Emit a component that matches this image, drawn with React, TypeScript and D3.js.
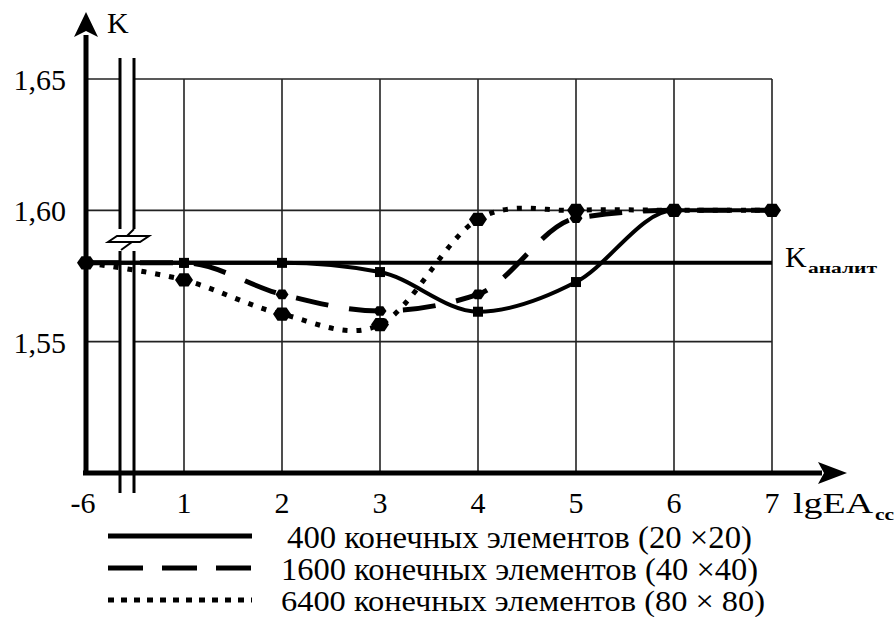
import React from "react";
import * as d3 from "d3";

// Positions along the horizontal axis: the first one (-6) sits before the axis break
const xLabels = ["-6", "1", "2", "3", "4", "5", "6", "7"];
const yTicks = [1.55, 1.6, 1.65];
const yTickLabels = ["1,55", "1,60", "1,65"];

// Coefficient K for three mesh densities
const k400 = [1.58, 1.58, 1.58, 1.5765, 1.5614, 1.5727, 1.6, 1.6];
const k1600 = [1.58, 1.58, 1.568, 1.5617, 1.568, 1.597, 1.6, 1.6];
const k6400 = [1.58, 1.5735, 1.5605, 1.5565, 1.5966, 1.6, 1.6, 1.6];
const kAnalit = 1.58;

const legendLabels = [
  "400 конечных элементов (20 ×20)",
  "1600 конечных элементов (40 ×40)",
  "6400 конечных элементов (80 × 80)",
];

const W = 896;
const H = 617;
const FONT = "Liberation Serif, Times New Roman, DejaVu Serif, serif";

export default function App() {
  const x = d3.scaleLinear().domain([0, 7]).range([86, 772]);
  const y = d3.scaleLinear().domain([1.5, 1.65]).range([473, 79]);
  const idx = d3.range(xLabels.length);

  const line = (vals: number[], curve: d3.CurveFactory) =>
    d3
      .line<number>()
      .x((i) => x(i))
      .y((i) => y(vals[i]))
      .curve(curve)(idx) || "";

  const breakL = 120;
  const breakR = 134;
  const x0 = x(0);
  const xEnd = x(7);
  const yTop = y(1.65);
  const yBot = y(1.5);

  const hexagon = (cx: number, cy: number, r: number) => {
    const pts = d3.range(6).map((k) => {
      const a = (Math.PI / 3) * k;
      return [cx + r * Math.cos(a), cy + r * 0.85 * Math.sin(a)];
    });
    return "M" + pts.map((p) => p.join(",")).join("L") + "Z";
  };

  const legendY = [536, 568, 600];
  const legendBase = [548, 580, 611];
  const legendX = [287, 281, 281];
  const legendW = [465, 477, 484];
  const legendSize = [31, 31, 30];
  const txt = { fontFamily: FONT };

  return (
    <svg
      width={W}
      height={H}
      style={{ position: "absolute", left: 0, top: 0, background: "#fff" }}
    >
      <rect width={W} height={H} fill="#fff" />

      {/* grid: horizontal lines with a gap across the axis break */}
      {yTicks.map((t) => (
        <g key={"h" + t}>
          <line x1={x0} x2={breakL} y1={y(t)} y2={y(t)} stroke="#222" strokeWidth={1.6} />
          <line x1={breakR} x2={xEnd} y1={y(t)} y2={y(t)} stroke="#222" strokeWidth={1.6} />
        </g>
      ))}
      {idx.slice(1).map((i) => (
        <line key={"v" + i} x1={x(i)} x2={x(i)} y1={yTop} y2={yBot} stroke="#222" strokeWidth={1.6} />
      ))}

      {/* axis break marks */}
      <line x1={breakL} x2={breakL} y1={58} y2={493} stroke="#000" strokeWidth={3} />
      <line x1={breakR} x2={breakR} y1={58} y2={493} stroke="#000" strokeWidth={3} />
      <rect x={breakL - 3} y={229} width={breakR - breakL + 6} height={22} fill="#fff" />
      <path d="M134,229 L126,237" stroke="#000" strokeWidth={2} fill="none" />
      <path d="M108,242 L117,236 L149,236 L140,242 Z" stroke="#000" strokeWidth={2} fill="#fff" />
      <path d="M132,242 L121,250" stroke="#000" strokeWidth={2} fill="none" />

      {/* analytical value */}
      <line x1={x0} x2={xEnd} y1={y(kAnalit)} y2={y(kAnalit)} stroke="#000" strokeWidth={4} />

      {/* curves */}
      <path d={line(k400, d3.curveMonotoneX)} fill="none" stroke="#000" strokeWidth={4} />
      <path d={line(k1600, d3.curveMonotoneX)} fill="none" stroke="#000" strokeWidth={5} strokeDasharray="33,21" />
      <path d={line(k6400, d3.curveCardinal.tension(0))} fill="none" stroke="#000" strokeWidth={5} strokeDasharray="5,9" />

      {/* markers */}
      {idx.map((i) => (
        <rect key={"m4" + i} x={x(i) - 5} y={y(k400[i]) - 5} width={10} height={10} fill="#000" />
      ))}
      {idx.map((i) => (
        <path key={"m16" + i} d={hexagon(x(i), y(k1600[i]), 6.5)} fill="#000" />
      ))}
      {idx.map((i) => (
        <path key={"m64" + i} d={hexagon(x(i), y(k6400[i]), 9)} fill="#000" />
      ))}

      {/* axes */}
      <line x1={x0 - 3} x2={822} y1={yBot} y2={yBot} stroke="#000" strokeWidth={5} />
      <path d={`M847,${yBot} L818,${yBot - 11} L824,${yBot} L818,${yBot + 11} Z`} fill="#000" />
      <line x1={x0} x2={x0} y1={35} y2={yBot + 2} stroke="#000" strokeWidth={5} />
      <path d={`M${x0},12 L${x0 - 12},37 L${x0},31 L${x0 + 12},37 Z`} fill="#000" />

      {/* tick labels */}
      {yTicks.map((t, i) => (
        <text key={"yt" + t} x={66} y={y(t) + 11} textAnchor="end" fontSize={30} fill="#000" style={txt}>
          {yTickLabels[i]}
        </text>
      ))}
      {xLabels.map((l, i) => (
        <text key={"xt" + l} x={x(i) + (i === 0 ? -3 : 0)} y={513} textAnchor="middle" fontSize={30} fill="#000" style={txt}>
          {l}
        </text>
      ))}

      {/* axis titles */}
      <text x={107} y={33} fontSize={30} fill="#000" style={txt}>K</text>
      <text x={793} y={513} fontSize={30} fill="#000" style={txt} textLength={80} lengthAdjust="spacingAndGlyphs">
        lgEA
      </text>
      <text x={875} y={520} fontSize={16} fontWeight="bold" fill="#000" style={txt} textLength={19} lengthAdjust="spacingAndGlyphs">
        сс
      </text>
      <text x={785} y={267} fontSize={30} fill="#000" style={txt}>K</text>
      <text x={808} y={273} fontSize={15} fontWeight="bold" fill="#000" style={txt} textLength={69} lengthAdjust="spacingAndGlyphs">
        аналит
      </text>

      {/* legend */}
      <line x1={108} x2={252} y1={legendY[0]} y2={legendY[0]} stroke="#000" strokeWidth={5} />
      <line x1={108} x2={252} y1={legendY[1]} y2={legendY[1]} stroke="#000" strokeWidth={5} strokeDasharray="35,19" />
      <line x1={108} x2={252} y1={legendY[2]} y2={legendY[2]} stroke="#000" strokeWidth={5} strokeDasharray="6,7" />
      {legendLabels.map((l, i) => (
        <text
          key={l}
          x={legendX[i]}
          y={legendBase[i]}
          fontSize={legendSize[i]}
          fill="#000"
          style={txt}
          textLength={legendW[i]}
          lengthAdjust="spacingAndGlyphs"
        >
          {l}
        </text>
      ))}
    </svg>
  );
}
